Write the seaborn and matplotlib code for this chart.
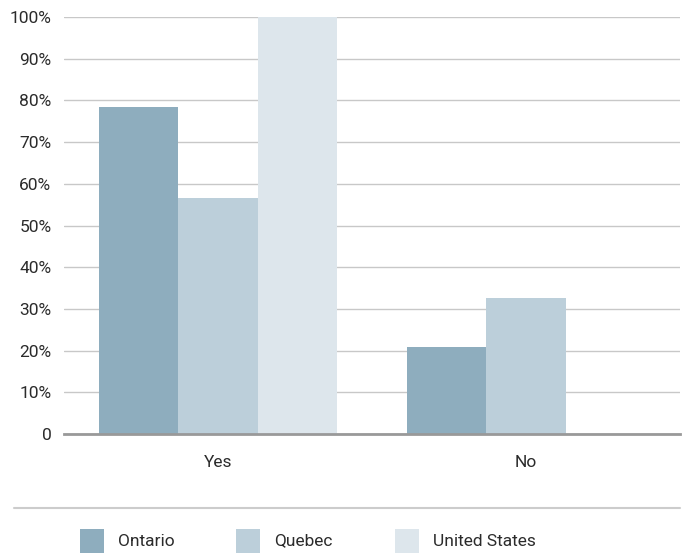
import matplotlib
matplotlib.use("Agg")
import matplotlib.pyplot as plt
import seaborn as sns
import pandas as pd
from matplotlib import font_manager
from matplotlib.patches import Rectangle
from matplotlib.lines import Line2D

categories = ["Yes", "No"]
series = ["Ontario", "Quebec", "United States"]
ontario = [78.4, 20.9]
quebec = [56.7, 32.7]
united_states = [100.0, 0.0]
colors = ["#8eadbe", "#bccfda", "#dde6ec"]
yticks = [0, 10, 20, 30, 40, 50, 60, 70, 80, 90, 100]
ytick_labels = ["0", "10%", "20%", "30%", "40%", "50%", "60%", "70%", "80%", "90%", "100%"]

sns.set_style("white")
names = {f.name for f in font_manager.fontManager.ttflist}
fam = "Liberation Sans Narrow" if "Liberation Sans Narrow" in names else "Roboto"
plt.rcParams["font.family"] = [fam, "DejaVu Sans"]

rows = []
for s, vals in zip(series, [ontario, quebec, united_states]):
    for c, v in zip(categories, vals):
        rows.append({"category": c, "series": s, "value": v})
df = pd.DataFrame(rows)

fig = plt.figure(figsize=(6.82, 5.54), dpi=100)
ax = fig.add_axes([64 / 682, 1 - 434 / 554, 616 / 682, 417 / 554])
sns.barplot(data=df, x="category", y="value", hue="series", order=categories,
            hue_order=series, palette=colors, width=0.775, saturation=1,
            edgecolor="none", linewidth=0, ax=ax, legend=False, zorder=3)
ax.set_xlim(-0.5, 1.5)
ax.set_ylim(0, 100)
ax.set_yticks(yticks)
ax.set_yticklabels(ytick_labels)
ax.yaxis.grid(True, color="#c8c8c8", linewidth=1, zorder=0)
ax.set_axisbelow(True)
for sp in ["top", "right", "left"]:
    ax.spines[sp].set_visible(False)
ax.spines["bottom"].set_color("#999999")
ax.spines["bottom"].set_linewidth(2)
ax.spines["bottom"].set_zorder(5)
ax.tick_params(axis="y", length=0, pad=9, labelsize=12.5, labelcolor="#2b2b2b")
ax.tick_params(axis="x", length=0, pad=15, labelsize=12.5, labelcolor="#2b2b2b")
ax.set_xlabel("")
ax.set_ylabel("")

# separator line
fig.add_artist(Line2D([14 / 682, 680 / 682], [1 - 508 / 554] * 2, color="#cccccc",
                      linewidth=1.5, transform=fig.transFigure))
# legend
leg_x = [80, 236, 395]
for s, col, x in zip(series, colors, leg_x):
    fig.add_artist(Rectangle((x / 682, 1 - 553 / 554), 24 / 682, 24 / 554,
                             facecolor=col, edgecolor="none", transform=fig.transFigure))
    fig.text((x + 38) / 682, 1 - 541 / 554, s, fontsize=12.5, color="#2b2b2b",
             va="center", ha="left")

fig.savefig("out.png", dpi=100)
